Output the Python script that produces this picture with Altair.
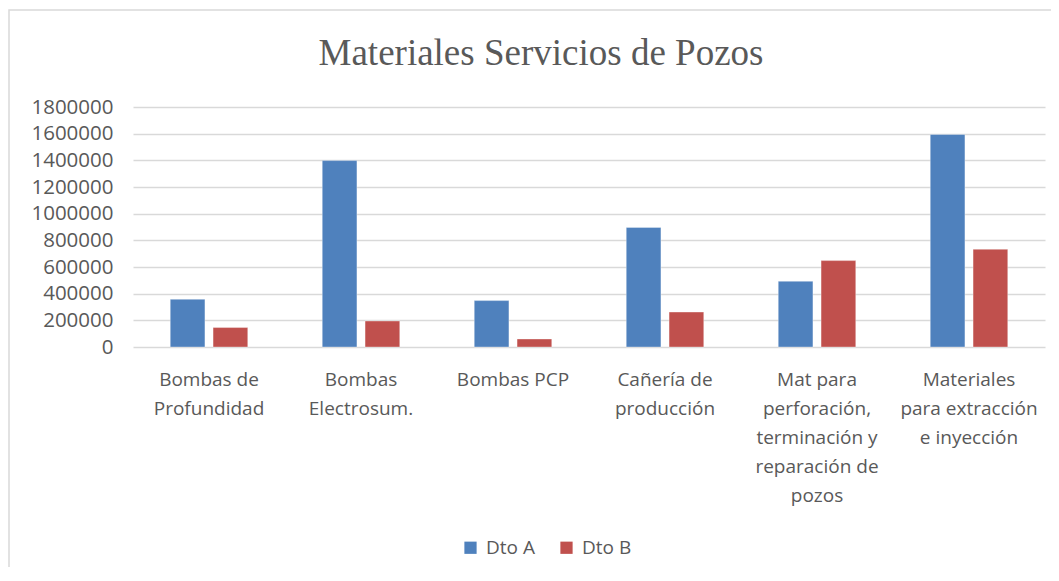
import altair as alt
import pandas as pd

title_text = "Materiales Servicios de Pozos"
categories = [
    "Bombas de\nProfundidad",
    "Bombas\nElectrosum.",
    "Bombas PCP",
    "Cañería de\nproducción",
    "Mat para\nperforación,\nterminación y\nreparación de\npozos",
    "Materiales\npara extracción\ne inyección",
]
dto_a = [358000, 1398000, 348000, 897000, 493000, 1594000]
dto_b = [146000, 195000, 60000, 262000, 648000, 733000]
series = ["Dto A", "Dto B"]
colors = ["#4F81BD", "#C0504D"]
y_ticks = [0, 200000, 400000, 600000, 800000, 1000000, 1200000, 1400000, 1600000, 1800000]

rows = []
for c, a, b in zip(categories, dto_a, dto_b):
    rows.append({"cat": c, "serie": series[0], "valor": a})
    rows.append({"cat": c, "serie": series[1], "valor": b})
df = pd.DataFrame(rows)

FONT = "Open Sans"
GRAY = "#595959"

bars = alt.Chart(df).mark_bar(stroke="#FFFFFF", strokeOpacity=0.35, strokeWidth=1).encode(
    x=alt.X("cat:N", sort=categories,
            scale=alt.Scale(paddingInner=0.49, paddingOuter=0.245),
            axis=alt.Axis(title=None, labelAngle=0, labelExpr="split(datum.label, '\\n')",
                          labelFont=FONT, labelFontSize=19, labelColor=GRAY,
                          labelLineHeight=29, labelPadding=23, ticks=False, domain=False,
                          labelBaseline="top", labelLimit=0, grid=False)),
    xOffset=alt.XOffset("serie:N", sort=series, scale=alt.Scale(paddingInner=0.19)),
    y=alt.Y("valor:Q",
            scale=alt.Scale(domain=[0, 1800000], nice=False, zero=True),
            axis=alt.Axis(title=None, values=y_ticks, format="d", labelFont=FONT,
                          labelFontSize=20.5, labelColor=GRAY, labelPadding=20,
                          ticks=False, domain=False, gridColor="#D9D9D9", gridWidth=1.3)),
    color=alt.Color("serie:N", sort=series,
                    scale=alt.Scale(domain=series, range=colors),
                    legend=alt.Legend(title=None, orient="none", direction="horizontal",
                                      legendX=328, legendY=431,
                                      symbolType="square", symbolSize=150, symbolStrokeWidth=0,
                                      labelFont=FONT, labelFontSize=19, labelColor=GRAY,
                                      columnPadding=22, labelOffset=6)),
)

frame = alt.Chart(pd.DataFrame({"k": [0]})).mark_rect(
    fill=None, stroke="#D9D9D9", strokeWidth=1.5, clip=False
).encode(x=alt.value(-124), x2=alt.value(1200), y=alt.value(-97), y2=alt.value(700))

title = alt.Chart(pd.DataFrame({"t": [title_text]})).mark_text(
    font="Liberation Serif", fontSize=37, color=GRAY, align="center", baseline="alphabetic"
).encode(text="t:N", x=alt.value(408), y=alt.value(-42))

chart = alt.layer(frame, title, bars).properties(
    width=912,
    height=240,
    autosize=alt.AutoSizeParams(type="none"),
    padding={"left": 125, "top": 99, "right": 6, "bottom": 220},
).configure(background="white").configure_view(stroke=None)

chart.save("out.html", embed_options={"renderer": "svg", "actions": False})
